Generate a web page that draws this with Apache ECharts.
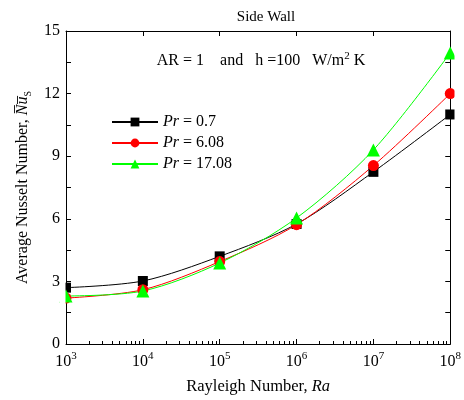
<!DOCTYPE html>
<html>
<head>
<meta charset="utf-8">
<script src="https://cdn.jsdelivr.net/npm/echarts@6/dist/echarts.min.js"></script>
<style>
  html, body { margin: 0; padding: 0; background: #fff; }
  #chart { width: 464px; height: 400px; }
</style>
</head>
<body>
<div id="chart"></div>
<script>
// Rayleigh numbers and side-wall average Nusselt numbers for three Prandtl numbers
const rayleigh = [1e3, 1e4, 1e5, 1e6, 1e7, 1e8];
const nuPr07 = [2.7, 3.02, 4.2, 5.75, 8.25, 11.0];
const nuPr608 = [2.2, 2.6, 3.95, 5.72, 8.55, 12.0];
const nuPr1708 = [2.3, 2.54, 3.88, 6.04, 9.3, 13.95];
const seriesNames = ['Pr = 0.7', 'Pr = 6.08', 'Pr = 17.08'];
const yTicks = [0, 3, 6, 9, 12, 15];

// minor tick positions (2..9 x each decade) for the log axis
const minorTickValues = [];
for (let e = 3; e < 8; e++) {
  for (let k = 2; k <= 9; k++) minorTickValues.push(k * Math.pow(10, e));
}

const FONT = '"Liberation Serif", "DejaVu Serif", serif';
const GRID = { left: 66, right: 10, top: 31, bottom: 56 };
const W = 464, H = 400;
const chart = echarts.init(document.getElementById('chart'), null, { renderer: 'canvas' });

const pairs = (ys) => rayleigh.map((x, i) => [x, ys[i]]);

const logAxisBase = {
  type: 'log',
  logBase: 10,
  min: rayleigh[0],
  max: rayleigh[rayleigh.length - 1],
  splitLine: { show: false },
  minorSplitLine: { show: false }
};

chart.setOption({
  animation: false,
  backgroundColor: '#fff',
  textStyle: { fontFamily: FONT, color: '#000' },
  title: {
    text: 'Side Wall',
    left: 261,
    top: 5,
    textAlign: 'center',
    textStyle: { fontFamily: FONT, fontSize: 15, fontWeight: 'normal', color: '#000' }
  },
  grid: Object.assign({ containLabel: false }, GRID),
  legend: {
    orient: 'vertical',
    left: 106,
    top: 109,
    itemWidth: 46,
    itemHeight: 11,
    itemGap: 5,
    data: seriesNames,
    formatter: (name) => '{i|Pr}{t| = ' + name.slice(5) + '}',
    textStyle: {
      fontFamily: FONT,
      fontSize: 16,
      color: '#000',
      rich: {
        i: { fontFamily: FONT, fontSize: 16, fontStyle: 'italic', color: '#000' },
        t: { fontFamily: FONT, fontSize: 16, color: '#000' }
      }
    }
  },
  graphic: [
    {
      type: 'text',
      x: 261,
      y: 60,
      style: {
        text: '{a|AR = 1    and   h =100   W/m}{s|2}{a| K}',
        align: 'center',
        verticalAlign: 'middle',
        rich: {
          a: { fontFamily: FONT, fontSize: 16, fill: '#000', verticalAlign: 'bottom', lineHeight: 18 },
          s: { fontFamily: FONT, fontSize: 11, fill: '#000', verticalAlign: 'bottom', lineHeight: 18, padding: [0, 0, 7, 0] }
        }
      }
    },
    // white margins so edge markers are cut at the frame
    { type: 'rect', z: 50, silent: true, shape: { x: 60, y: GRID.top + 1, width: GRID.left - 60 - 0.5, height: H - GRID.top - GRID.bottom - 2 }, style: { fill: '#fff' } },
    { type: 'rect', z: 50, silent: true, shape: { x: W - GRID.right + 0.5, y: GRID.top + 1, width: GRID.right, height: H - GRID.top - GRID.bottom - 2 }, style: { fill: '#fff' } }
  ],
  xAxis: [
    Object.assign({}, logAxisBase, {
      position: 'bottom',
      name: '{a|Rayleigh Number, }{i|Ra}',
      nameLocation: 'middle',
      nameGap: 34,
      nameTextStyle: {
        rich: {
          a: { fontFamily: FONT, fontSize: 16.5, color: '#000' },
          i: { fontFamily: FONT, fontSize: 16.5, fontStyle: 'italic', color: '#000' }
        }
      },
      axisLine: { show: true, lineStyle: { color: '#000', width: 1 } },
      axisTick: { show: true, inside: true, length: 5, lineStyle: { color: '#000' } },
      axisLabel: {
        margin: 6,
        formatter: (v) => '{b|10}{s|' + Math.round(Math.log10(v)) + '}',
        rich: {
          b: { fontFamily: FONT, fontSize: 16, color: '#000', verticalAlign: 'bottom', lineHeight: 20 },
          s: { fontFamily: FONT, fontSize: 11, color: '#000', verticalAlign: 'bottom', lineHeight: 20, padding: [0, 0, 8, 0] }
        }
      }
    }),
    Object.assign({}, logAxisBase, {
      position: 'bottom',
      axisLine: { show: false },
      axisLabel: { show: false },
      axisTick: {
        show: true, inside: true, length: 3,
        customValues: minorTickValues,
        lineStyle: { color: '#000' }
      }
    }),
    Object.assign({}, logAxisBase, {
      position: 'top',
      axisLine: { show: true, lineStyle: { color: '#000', width: 1 } },
      axisLabel: { show: false },
      axisTick: { show: true, inside: true, length: 5, lineStyle: { color: '#000' } }
    })
  ],
  yAxis: [
    {
      type: 'value',
      position: 'left',
      min: yTicks[0],
      max: yTicks[yTicks.length - 1],
      interval: 3,
      name: '{a|Average Nusselt Number, }{n|N\u0305u\u0305}{s|S}',
      nameLocation: 'middle',
      nameGap: 35,
      nameTextStyle: {
        rich: {
          a: { fontFamily: FONT, fontSize: 16, color: '#000', verticalAlign: 'bottom', lineHeight: 20 },
          n: { fontFamily: FONT, fontSize: 16, fontStyle: 'italic', color: '#000', verticalAlign: 'bottom', lineHeight: 20 },
          s: { fontFamily: FONT, fontSize: 10, color: '#000', verticalAlign: 'bottom', lineHeight: 20, padding: [0, 0, -2, 0] }
        }
      },
      splitLine: { show: false },
      axisLine: { show: true, lineStyle: { color: '#000', width: 1 } },
      axisTick: { show: true, inside: true, length: 5, lineStyle: { color: '#000' } },
      minorTick: { show: true, splitNumber: 2, length: 5, lineStyle: { color: '#000' } },
      axisLabel: { fontFamily: FONT, fontSize: 16, color: '#000', margin: 6 }
    },
    {
      type: 'value',
      position: 'right',
      min: yTicks[0],
      max: yTicks[yTicks.length - 1],
      interval: 3,
      splitLine: { show: false },
      axisLine: { show: true, lineStyle: { color: '#000', width: 1 } },
      axisTick: { show: true, inside: true, length: 5, lineStyle: { color: '#000' } },
      minorTick: { show: true, splitNumber: 2, length: 5, lineStyle: { color: '#000' } },
      axisLabel: { show: false }
    }
  ],
  series: [
    {
      name: seriesNames[0], type: 'line', smooth: 0.3, data: pairs(nuPr07),
      symbol: 'rect', symbolSize: 10,
      itemStyle: { color: '#000' }, lineStyle: { color: '#000', width: 1 }
    },
    {
      name: seriesNames[1], type: 'line', smooth: 0.3, data: pairs(nuPr608),
      symbol: 'circle', symbolSize: 11,
      itemStyle: { color: '#ff0000' }, lineStyle: { color: '#ff0000', width: 1 }
    },
    {
      name: seriesNames[2], type: 'line', smooth: 0.3, data: pairs(nuPr1708),
      symbol: 'triangle', symbolSize: 13,
      itemStyle: { color: '#00ff00' }, lineStyle: { color: '#00ff00', width: 1 }
    }
  ]
});
</script>
</body>
</html>
